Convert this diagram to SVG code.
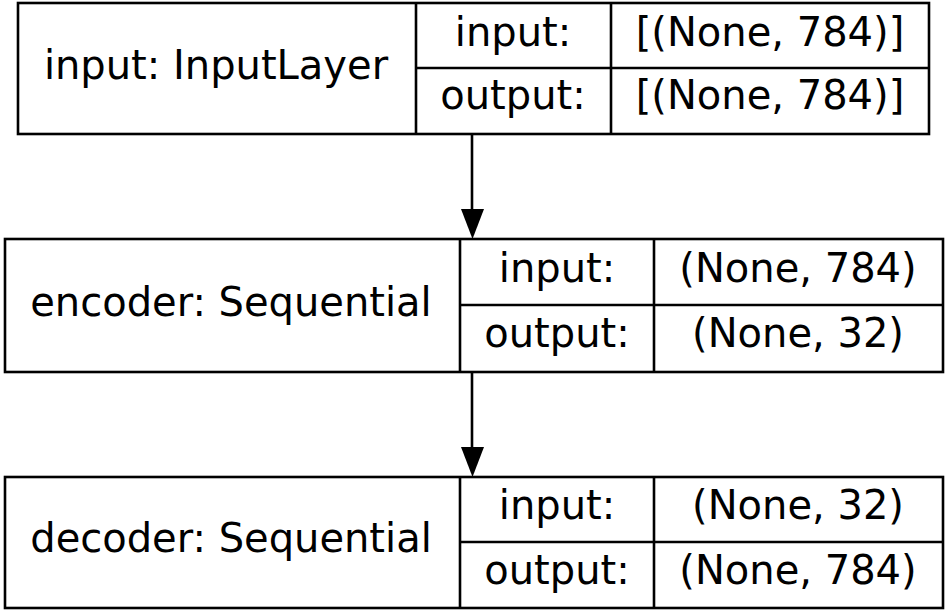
<svg xmlns="http://www.w3.org/2000/svg" width="945" height="611" viewBox="0 0 945 611">
<style>
.box{fill:#fff;stroke:#000;stroke-width:2.6}
.ln{stroke:#000;stroke-width:2.6;fill:none}
text{font-family:"DejaVu Sans",sans-serif;font-size:40px;fill:#000;text-anchor:middle}
</style>
<rect width="945" height="611" fill="#fff"/>
<g id="connectors">
<line class="ln" x1="472" y1="134" x2="472" y2="209"/>
<path d="M461,209 L484,209 L472.5,239 Z" fill="#000"/>
<line class="ln" x1="472" y1="372" x2="472" y2="447"/>
<path d="M461,447 L484,447 L472.5,477 Z" fill="#000"/>
</g>
<g id="input">
<rect class="box" x="18" y="3" width="911" height="131"/>
<line class="ln" x1="416" y1="3" x2="416" y2="134"/>
<line class="ln" x1="611" y1="3" x2="611" y2="134"/>
<line class="ln" x1="416" y1="68" x2="929" y2="68"/>
<text x="216" y="79">input: InputLayer</text>
<text x="513" y="46">input:</text>
<text x="513" y="109">output:</text>
<text x="770" y="46">[(None, 784)]</text>
<text x="770" y="109">[(None, 784)]</text>
</g>
<g id="encoder">
<rect class="box" x="5" y="239" width="938" height="133"/>
<line class="ln" x1="460" y1="239" x2="460" y2="372"/>
<line class="ln" x1="654" y1="239" x2="654" y2="372"/>
<line class="ln" x1="460" y1="305" x2="943" y2="305"/>
<text x="231" y="316">encoder: Sequential</text>
<text x="557" y="282">input:</text>
<text x="557" y="347">output:</text>
<text x="798" y="282">(None, 784)</text>
<text x="798" y="347">(None, 32)</text>
</g>
<g id="decoder">
<rect class="box" x="5" y="477" width="938" height="131"/>
<line class="ln" x1="460" y1="477" x2="460" y2="608"/>
<line class="ln" x1="654" y1="477" x2="654" y2="608"/>
<line class="ln" x1="460" y1="542" x2="943" y2="542"/>
<text x="231" y="552">decoder: Sequential</text>
<text x="557" y="519">input:</text>
<text x="557" y="584">output:</text>
<text x="798" y="519">(None, 32)</text>
<text x="798" y="584">(None, 784)</text>
</g>
</svg>
